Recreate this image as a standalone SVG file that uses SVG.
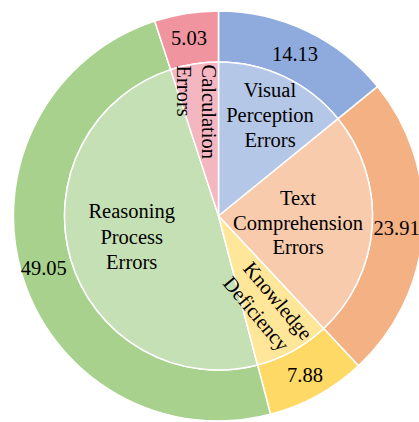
<svg xmlns="http://www.w3.org/2000/svg" width="419" height="422" viewBox="0 0 419 422">
<style>
.seg{stroke:#fff;stroke-width:1.5;stroke-linejoin:round}
text{font-family:"Liberation Serif","Times New Roman",serif;font-size:20.5px;fill:#000}
.c{text-anchor:middle}
</style>
<rect width="419" height="422" fill="#fff"/>
<g id="outer-ring">
<g id="visual-outer"><path class="seg" fill="#8FAADC" d="M218.5,11 A205,205 0 0 1 377.52,86.62 L337.96,118.81 A154,154 0 0 0 218.5,62 Z"/><text class="c" x="295" y="61">14.13</text></g>
<g id="text-outer"><path class="seg" fill="#F4B183" d="M377.52,86.62 A205,205 0 0 1 358.46,365.79 L323.64,328.52 A154,154 0 0 0 337.96,118.81 Z"/><text x="373.5" y="235">23.91</text></g>
<g id="knowledge-outer"><path class="seg" fill="#FFD966" d="M358.46,365.79 A205,205 0 0 1 270.48,414.3 L257.55,364.97 A154,154 0 0 0 323.64,328.52 Z"/><text class="c" x="305" y="382">7.88</text></g>
<g id="reasoning-outer"><path class="seg" fill="#A9D18E" d="M270.48,414.3 A205,205 0 0 1 154.78,21.15 L170.64,69.63 A154,154 0 0 0 257.55,364.97 Z"/><text class="c" x="43.7" y="275">49.05</text></g>
<g id="calc-outer"><path class="seg" fill="#F0959F" d="M154.78,21.15 A205,205 0 0 1 218.5,11 L218.5,62 A154,154 0 0 0 170.64,69.63 Z"/><text class="c" x="189" y="45">5.03</text></g>
</g>
<g id="inner-pie">
<g id="visual"><path class="seg" fill="#B4C7E7" d="M218.5,216 L218.5,62 A154,154 0 0 1 337.96,118.81 Z"/>
<text class="c" x="270" y="97">Visual</text><text class="c" x="270" y="122">Perception</text><text class="c" x="270" y="147">Errors</text></g>
<g id="text-comp"><path class="seg" fill="#F8CBAD" d="M218.5,216 L337.96,118.81 A154,154 0 0 1 323.64,328.52 Z"/>
<text class="c" x="298" y="205">Text</text><text class="c" x="298" y="229.5">Comprehension</text><text class="c" x="298" y="254">Errors</text></g>
<g id="reasoning"><path class="seg" fill="#C5E0B4" d="M218.5,216 L257.55,364.97 A154,154 0 0 1 170.64,69.63 Z"/>
<text class="c" x="131.7" y="218">Reasoning</text><text class="c" x="131.7" y="243.5">Process</text><text class="c" x="131.7" y="269">Errors</text></g>
<g id="calc"><path class="seg" fill="#F4B6C0" d="M218.5,216 L170.64,69.63 A154,154 0 0 1 218.5,62 Z"/>
<text transform="rotate(90 202 64.5)" x="202" y="64.5">Calculation</text><text transform="rotate(90 177 65.5)" x="177" y="65.5">Errors</text></g>
<g id="knowledge"><path class="seg" fill="#FFE699" d="M218.5,216 L323.64,328.52 A154,154 0 0 1 257.55,364.97 Z"/>
<g transform="translate(266.8,307.5) rotate(50)"><text class="c" x="2" y="-6">Knowledge</text><text class="c" x="-2" y="19">Deficiency</text></g></g>
</g>
</svg>
